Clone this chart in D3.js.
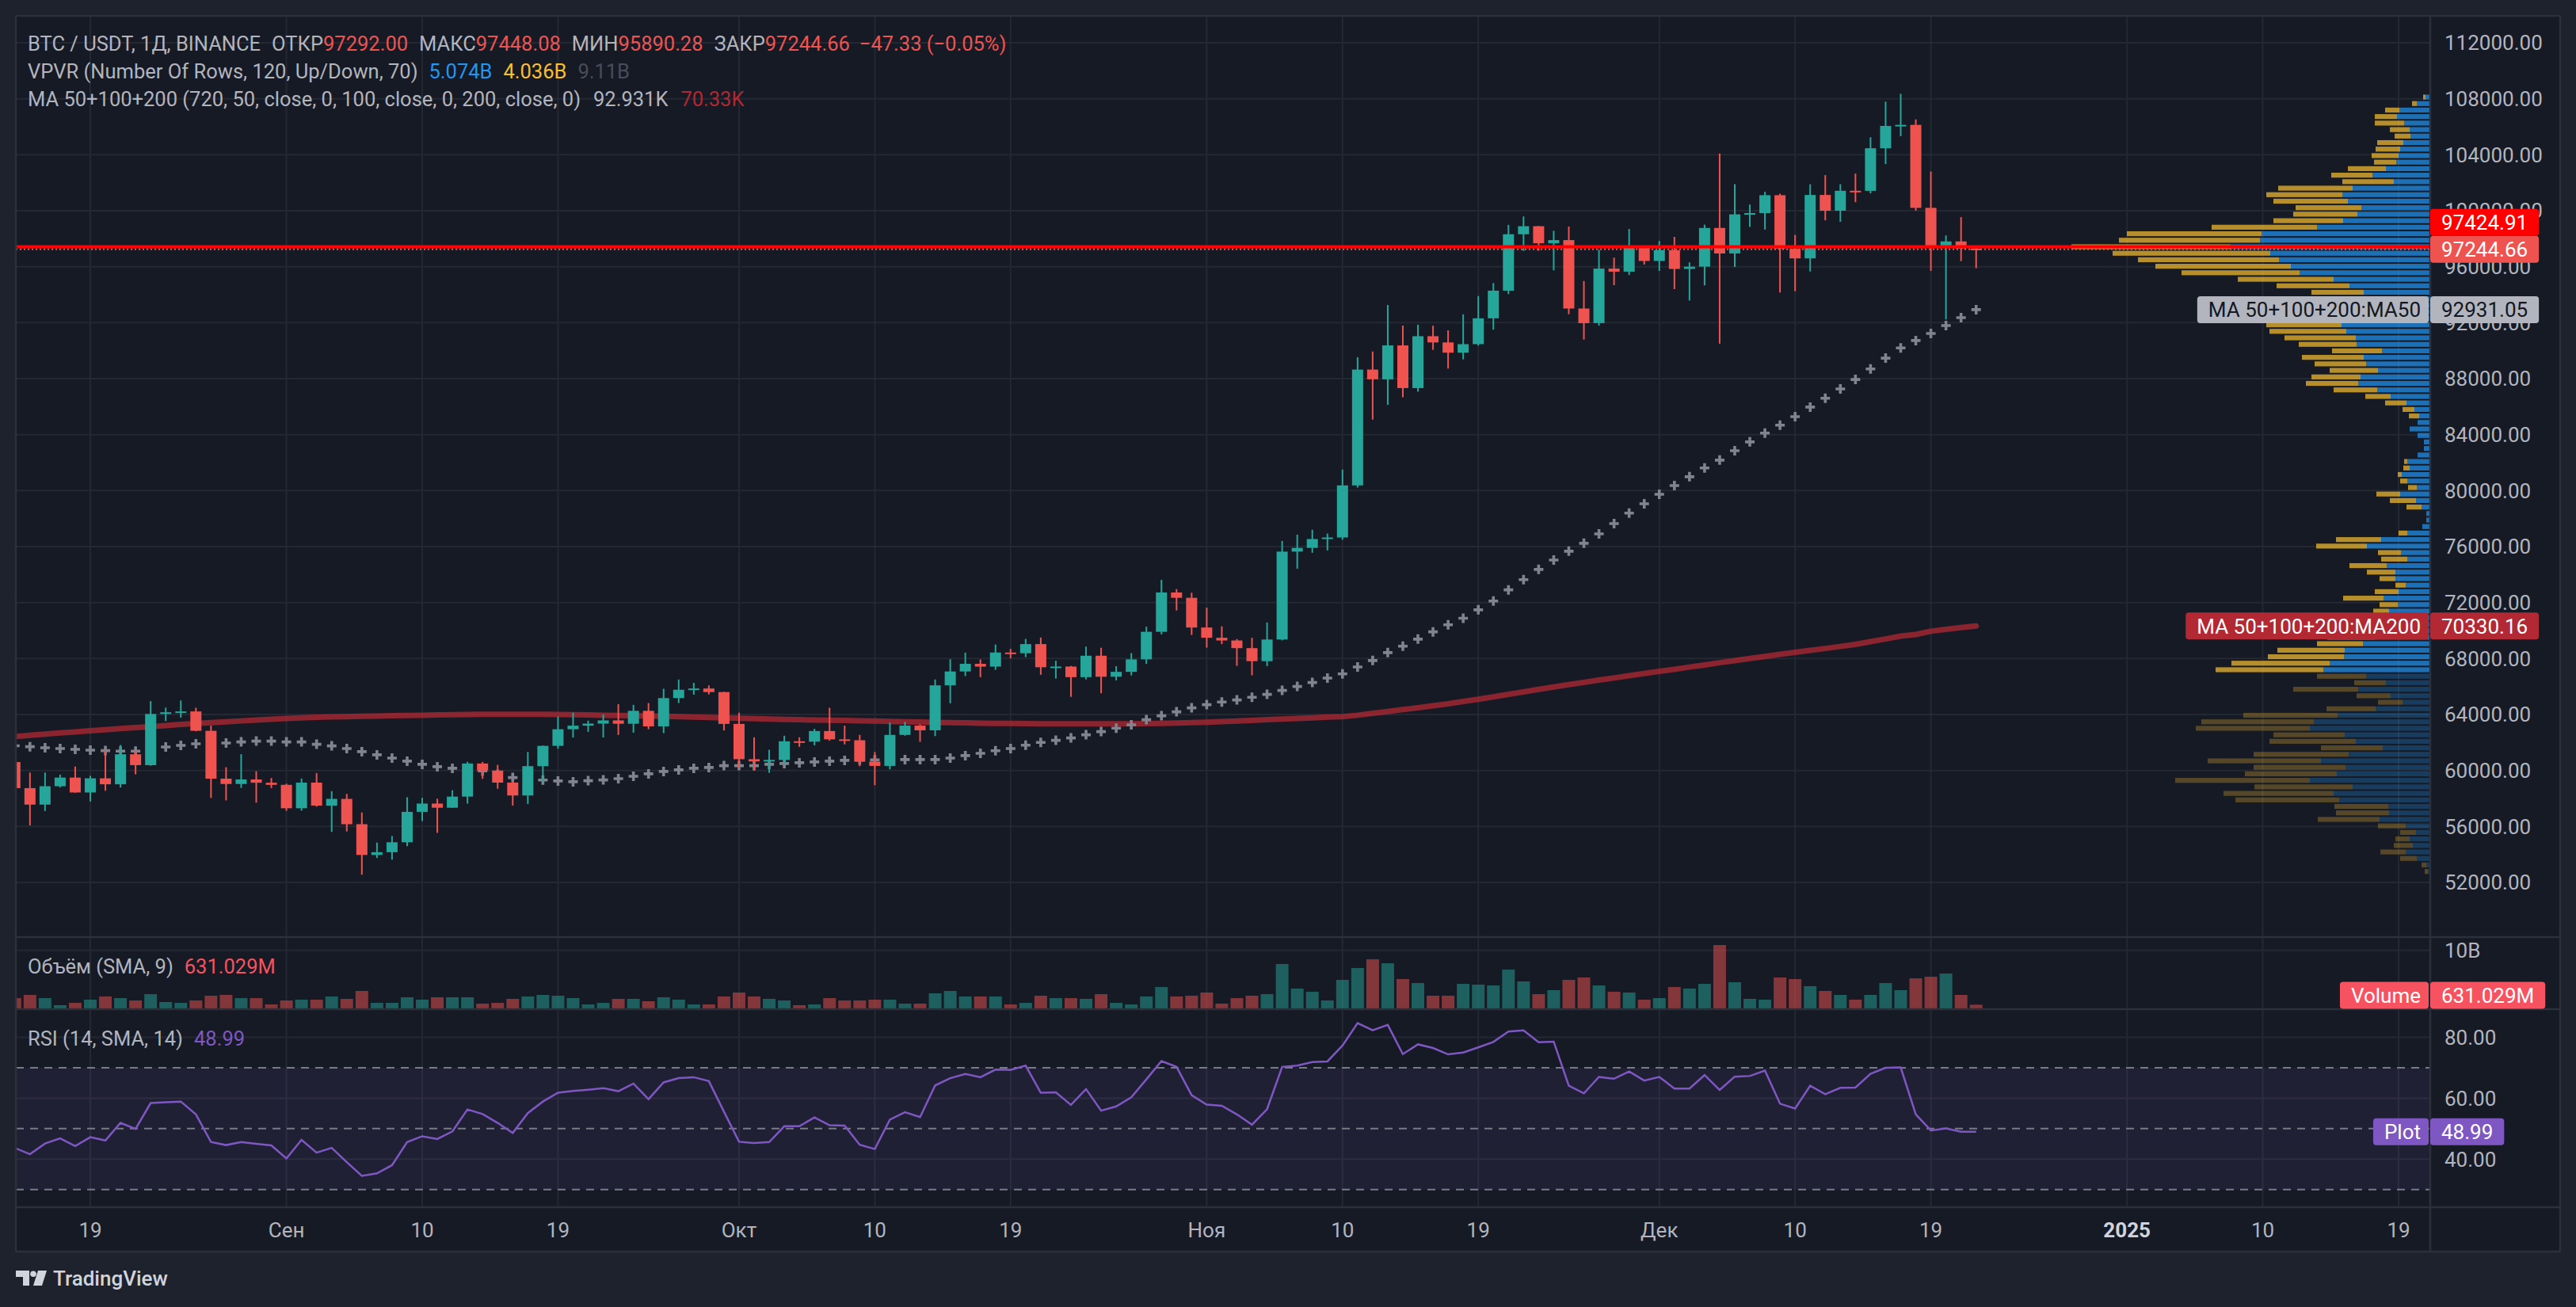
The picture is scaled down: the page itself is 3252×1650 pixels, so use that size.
<!DOCTYPE html>
<html>
<head>
<meta charset="utf-8">
<script src="https://cdn.jsdelivr.net/npm/d3@7"></script>
<style>
html, body { margin: 0; padding: 0; background: #1e222d; }
svg { display: block; font-family: Roboto, "Noto Sans", sans-serif; }
</style>
</head>
<body>
<svg id="chart" width="3252" height="1650"></svg>
<script>
// daily candles, BTC/USDT 1D, 14 Aug – 22 Dec 2024
const firstDay = new Date(Date.UTC(2024, 7, 14));
const lastDay = new Date(Date.UTC(2024, 11, 22));

const opens = [
  60601,58739,57560,58874,59491,58427,59438,59013,61156,60381,64037,64157,64220,62834,59415,59034,59359,59123,
  58973,57301,59132,57487,57970,56160,53962,54160,54869,57042,57635,57338,58132,60498,59993,59132,58213,60309,61759,62947,63201,63348,63578,63339,64262,63152,65173,65769,65858,65602,
  63327,60805,60650,60752,62086,62058,62819,62224,62160,60636,60326,62540,63206,62870,66083,67074,67620,67421,68428,68378,69032,67377,67426,66668,68199,66698,67047,67941,69908,72720,72339,
  70216,69482,69289,68741,67811,69359,75640,75904,76538,76649,80370,88648,87952,90375,87325,91032,90587,89855,90465,92310,94286,98317,98893,97673,97900,93010,91966,95864,95644,97461,
  96407,97185,95840,96002,98768,96945,99740,99831,101109,97276,96593,101125,100000,101424,101420,104463,106058,106133,100204,97461,97805,97292.00
];
const highs = [
  61800,59849,59850,59700,60284,59617,61400,61820,61400,64955,64494,65000,64481,63212,60234,61166,59944,59462,
  59054,59425,59809,58519,58327,56995,54850,55318,58088,58044,57981,58588,60625,60610,60395,59210,61320,61786,63850,64133,63559,64000,64745,64688,64817,65839,66498,66260,66076,65618,
  64130,62370,61477,62484,62370,62975,64478,63200,62543,61321,63417,63480,63285,66500,67950,68424,67939,69000,68693,69400,69500,67836,67472,68850,68771,67454,68386,70270,73620,72961,72700,
  71632,70300,69389,69480,70577,76400,76850,77200,76932,81500,89530,89940,93265,91790,91850,91779,91449,92594,93905,94831,98988,99588,98908,98564,98871,94973,97208,96650,98693,97463,
  97836,98130,96305,99000,104088,101898,100439,101350,101215,98270,101888,102540,101895,102650,105250,107793,108353,106524,102800,98233,99540,97448.08
];
const lows = [
  58433,56078,57098,58785,58408,57787,58548,58783,59724,60342,63531,63773,62800,58034,57860,58755,57700,58744,
  57118,57128,57415,55606,55643,52550,53745,53629,54591,56386,55545,57324,57632,59400,58692,57493,57610,59174,61555,62350,62758,62357,62538,62700,62947,62670,64819,65422,65432,62856,
  60164,59996,59828,60459,61689,61798,62128,61860,60300,58946,60087,62487,62050,62457,64800,66750,66666,67192,68010,68100,66836,66571,65260,66510,65520,66439,66792,67618,69730,71436,69686,
  68779,69032,67478,66800,67458,69298,74416,75560,75725,76492,80216,85072,86128,86668,87073,90056,88722,89376,90357,91500,94040,97122,97136,95734,92600,90791,91792,94677,95407,96150,
  95694,94395,93578,94660,90500,95981,98844,98651,94150,94256,95658,99311,99205,100610,101237,103333,105322,100000,95700,92232,96398,95890.28
];
const closes = [
  58739,57560,58874,59491,58427,59438,59013,61156,60381,64037,64157,64220,62834,59415,59034,59359,59123,58973,
  57301,59132,57487,57970,56160,53962,54160,54869,57042,57635,57338,58132,60498,59993,59132,58213,60309,61759,62947,63201,63348,63578,63339,64262,63152,65173,65769,65858,65602,63327,
  60805,60650,60752,62086,62058,62819,62224,62160,60636,60326,62540,63206,62870,66083,67074,67620,67421,68428,68378,69032,67377,67426,66668,68199,66698,67047,67941,69908,72720,72339,70215,
  69482,69289,68741,67811,69359,75640,75904,76538,76649,80370,88647,87952,90375,87325,91032,90586,89855,90464,92310,94286,98317,98892,97672,97900,93010,91965,95863,95643,97460,96407,
  97185,95840,96002,98768,96945,99740,99831,101109,97276,96593,101125,100000,101424,101420,104463,106058,106133,100204,97461,97805,97292,97244.66
];

// volume, billions USDT
const volumes = [
  1.77,2.32,1.77,0.55,0.95,1.5,2.05,1.77,1.36,2.45,1.09,0.95,1.36,2.18,2.32,1.77,1.77,0.68,
  1.36,1.5,1.5,2.05,1.64,3.0,0.95,0.95,1.91,1.5,1.91,1.91,1.91,0.82,0.95,1.64,2.05,2.32,2.18,1.77,0.68,0.95,1.64,1.64,1.23,1.91,1.5,0.68,0.68,2.05,
  2.73,2.05,1.64,1.36,0.55,0.68,1.77,1.36,1.36,1.5,1.5,0.82,0.82,2.59,3.0,2.05,2.05,2.05,0.68,0.95,2.18,1.77,1.77,1.64,2.45,0.95,0.68,2.05,3.68,2.05,2.18,
  2.73,0.82,1.77,2.18,2.45,7.64,3.41,2.86,1.36,4.91,6.95,8.45,7.77,5.05,4.36,2.18,2.18,4.23,4.09,3.95,6.68,4.64,2.45,3.14,4.91,5.32,3.95,2.86,2.73,1.5,
  1.77,3.68,3.41,4.23,10.91,4.5,1.64,1.5,5.32,5.05,3.82,3.0,2.32,1.5,2.32,4.36,3.14,5.18,5.45,6.0,2.32,0.631
];

const ma50 = [
  61760,61700,61626,61570,61513,61456,61419,61381,61381,61540,61683,61796,61909,61940,61966,62042,62098,62098,
  62042,62042,61872,61759,61570,61344,61118,60891,60665,60439,60269,60156,60060,59967,59730,59495,59400,59320,59250,59193,59268,59325,59419,59589,59759,59929,60042,60156,60212,60344,
  60344,60344,60439,60495,60552,60609,60665,60722,60740,60760,60770,60778,60778,60778,60891,61061,61230,61410,61570,61805,62004,62155,62325,62551,62778,63023,63268,63627,63910,64193,64476,
  64702,64891,65042,65231,65438,65721,66004,66287,66602,66897,67399,67857,68423,68882,69386,69906,70410,70874,71480,72108,72906,73636,74367,75040,75668,76234,76902,77638,78391,79059,
  79733,80361,80989,81617,82178,82851,83479,84107,84673,85279,85969,86598,87266,87939,88691,89467,90197,90724,91228,91794,92355,92931.05
];
const ma200 = [
  62420,62520,62600,62680,62760,62840,62910,62990,63060,63130,63210,63290,63360,63420,63480,63540,63600,63660,
  63720,63760,63800,63830,63850,63870,63890,63910,63930,63950,63970,63990,64000,64010,64020,64020,64020,64010,64000,63990,63970,63950,63930,63910,63890,63870,63850,63820,63790,63760,
  63730,63700,63680,63650,63630,63610,63590,63570,63550,63530,63500,63480,63460,63440,63420,63400,63380,63370,63360,63350,63340,63330,63330,63330,63330,63330,63340,63350,63370,63390,63420,
  63450,63490,63530,63580,63630,63680,63710,63760,63810,63850,63950,64080,64210,64350,64480,64620,64760,64930,65090,65260,65440,65610,65800,65970,66140,66290,66460,66610,66770,66930,
  67080,67230,67390,67540,67700,67850,68000,68150,68300,68440,68580,68720,68860,69010,69210,69400,69600,69720,69950,70080,70210,70330.16
];

const rsi = [
  43.65,41.6,45.1,46.8,44.3,47.2,46.1,51.9,49.9,58.4,58.7,58.9,54.7,45.6,44.6,45.6,45.0,44.5,
  40.2,46.3,42.1,43.7,39.0,34.5,35.3,38.0,45.6,47.5,46.6,49.1,56.3,54.8,51.9,48.6,55.1,58.9,61.8,62.4,62.8,63.3,62.3,64.8,59.7,65.2,66.6,66.9,65.6,55.6,
  45.7,45.3,45.6,50.8,50.8,53.7,51.1,51.0,44.7,43.3,53.0,55.4,53.8,64.2,66.6,68.0,66.9,69.4,69.3,70.7,61.8,61.9,57.8,63.0,55.9,57.3,60.3,66.2,72.2,70.3,61.0,
  57.9,57.5,54.7,51.3,56.4,70.3,70.7,71.9,72.1,77.3,84.7,82.3,84.1,74.5,77.7,76.5,74.4,75.0,76.7,78.5,81.9,82.3,78.4,78.6,64.1,61.6,67.0,66.4,68.8,65.8,
  67.0,63.2,63.2,67.6,62.7,67.1,67.3,69.1,58.2,56.6,64.1,61.3,63.4,63.5,68.0,70.0,70.1,54.7,49.4,50.1,49.0,48.99
];

// VPVR: 120 rows between the range low and high, relative volume per row
const vpLow = 52550, vpHigh = 108353, vpRows = 120;
const valueAreaLow = 66966;
const vpUp = [
  3,5,17,31,22,26,18,31,64,52, 53,115,122,98,152,118,107,138,103,60,
  94,108,152,147,117,69,35,50,91,56, 81,135,127,109,108,85,70,60,55,50,
  52,41,59,40,31,44,44,55,29,37, 80,62,29,10,5,5,11,18,38,17,
  29,36,26,29,16,8,8,16,26,16, 14,20,30,50,67,91,88,66,81,84,
  61,93,94,106,112,100,95,85,80,84, 102,122,165,176,191,202,252,215,213,143,
  110,92,87,104,111,98,46,73,56,43, 40,38,34,25,26,33,42,39,17,6
];
const vpDown = [
  4,6,21,32,24,18,20,35,78,67, 68,131,139,124,170,116,116,143,120,78,
  109,90,144,142,119,62,31,43,82,40, 62,136,124,96,85,58,60,50,45,35,
  20,23,51,30,13,20,36,47,33,29, 64,57,11,0,0,0,19,33,30,11,
  9,5,8,4,0,0,0,0,0,0, 13,15,27,32,55,66,62,61,65,78,
  63,73,90,97,95,90,85,75,70,66, 92,121,149,171,178,199,201,178,170,133,
  88,81,83,94,96,94,65,52,48,28, 34,31,33,20,25,37,28,18,6,3
];

const priceTicks = [52000,56000,60000,64000,68000,72000,76000,80000,84000,88000,92000,96000,100000,104000,108000,112000];
const volumeTicks = [10];
const rsiTicks = [80, 60, 40];
const rsiLevels = [70, 50, 30];
const timeTicks = [
  [2024,7,19],[2024,8,1],[2024,8,10],[2024,8,19],[2024,9,1],[2024,9,10],[2024,9,19],[2024,10,1],
  [2024,10,10],[2024,10,19],[2024,11,1],[2024,11,10],[2024,11,19],[2025,0,1],[2025,0,10],[2025,0,19]
].map(d => new Date(Date.UTC(d[0], d[1], d[2])));
const timeLabels = ["19","Сен","10","19","Окт","10","19","Ноя","10","19","Дек","10","19","2025","10","19"];

const alertPrice = 97424.91;
const lastPrice = 97244.66;

const upColor = "#26a69a", downColor = "#ef5350";
const textGray = "#b2b5be";

const svg = d3.select("#chart");
const width = +svg.attr("width");
const height = +svg.attr("height");

const L = 20, R = 3068, AX = 3232, T = 20;
const mainBottom = 1182, volTop = 1184, volBottom = 1273, rsiTop = 1275, rsiBottom = 1523, timeBottom = 1580;

const dates = d3.utcDay.range(firstDay, d3.utcDay.offset(lastDay, 1));

const x = d3.scaleUtc()
  .domain([new Date(Date.UTC(2024, 7, 19)), new Date(Date.UTC(2025, 0, 19))])
  .range([114, 3028]);
const y = d3.scaleLinear().domain([52000, 112000]).range([1114, 54]);
const yVol = d3.scaleLinear().domain([0, 10]).range([volBottom, 1199.7]);
const yRsi = d3.scaleLinear().domain([30, 70]).range([1501.7, 1348]);

// backgrounds
svg.append("rect").attr("width", width).attr("height", height).attr("fill", "#1e222d");
svg.append("rect").attr("x", L).attr("y", T).attr("width", AX - L).attr("height", timeBottom - T).attr("fill", "#161a25");

const defs = svg.append("defs");
defs.append("clipPath").attr("id", "clipMain").append("rect")
  .attr("x", L).attr("y", T).attr("width", R - L).attr("height", mainBottom - T);
defs.append("clipPath").attr("id", "clipVol").append("rect")
  .attr("x", L).attr("y", volTop).attr("width", R - L).attr("height", volBottom - volTop);
defs.append("clipPath").attr("id", "clipRsi").append("rect")
  .attr("x", L).attr("y", rsiTop).attr("width", R - L).attr("height", rsiBottom - rsiTop);

// grid
const grid = svg.append("g").attr("stroke", "#242833").attr("stroke-width", 2);
grid.selectAll(".vg").data(timeTicks).join("line")
  .attr("x1", d => x(d)).attr("x2", d => x(d)).attr("y1", T).attr("y2", rsiBottom);
grid.selectAll(".hg").data(priceTicks).join("line")
  .attr("x1", L).attr("x2", R).attr("y1", d => y(d)).attr("y2", d => y(d));
grid.selectAll(".vgv").data(volumeTicks).join("line")
  .attr("x1", L).attr("x2", R).attr("y1", d => yVol(d)).attr("y2", d => yVol(d));
grid.selectAll(".rg").data(rsiTicks).join("line")
  .attr("x1", L).attr("x2", R).attr("y1", d => yRsi(d)).attr("y2", d => yRsi(d));

// ---- main pane ----
const main = svg.append("g").attr("clip-path", "url(#clipMain)");

// volume profile
const rowH = (vpHigh - vpLow) / vpRows;
const vpWidth = d3.scaleLinear().domain([0, d3.max(vpUp, (d, i) => d + vpDown[i])]).range([0, 453]);
const vpData = vpUp.map((u, i) => ({
  lo: vpLow + i * rowH, hi: vpLow + (i + 1) * rowH, up: u, down: vpDown[i]
}));
const vp = main.append("g");
vp.selectAll(".vpu").data(vpData).join("rect")
  .attr("x", d => R - vpWidth(d.up))
  .attr("y", d => y(d.hi) + 1)
  .attr("width", d => vpWidth(d.up))
  .attr("height", d => y(d.lo) - y(d.hi) - 2)
  .attr("fill", d => d.hi > valueAreaLow ? "rgba(33,150,243,0.7)" : "rgba(33,150,243,0.28)");
vp.selectAll(".vpd").data(vpData).join("rect")
  .attr("x", d => R - vpWidth(d.up + d.down))
  .attr("y", d => y(d.hi) + 1)
  .attr("width", d => vpWidth(d.down))
  .attr("height", d => y(d.lo) - y(d.hi) - 2)
  .attr("fill", d => d.hi > valueAreaLow ? "rgba(251,192,45,0.7)" : "rgba(251,192,45,0.28)");

// MA200
main.append("path")
  .datum(ma200)
  .attr("fill", "none")
  .attr("stroke", "#b22833")
  .attr("stroke-opacity", 0.75)
  .attr("stroke-width", 7)
  .attr("stroke-linecap", "round")
  .attr("d", d3.line().x((d, i) => x(dates[i])).y(d => y(d)));

// MA50 as crosses
main.append("path")
  .attr("fill", "none")
  .attr("stroke", "#81848e")
  .attr("stroke-width", 3.6)
  .attr("d", ma50.map((v, i) => {
    const cx = x(dates[i]), cy = y(v);
    return `M${cx - 6},${cy}h12M${cx},${cy - 6}v12`;
  }).join(""));

// candles
const candles = main.append("g");
const candleData = dates.map((d, i) => ({ d, o: opens[i], h: highs[i], l: lows[i], c: closes[i] }));
candles.selectAll(".wick").data(candleData).join("rect")
  .attr("x", d => x(d.d) - 1)
  .attr("y", d => y(d.h))
  .attr("width", 2)
  .attr("height", d => y(d.l) - y(d.h))
  .attr("fill", d => d.c >= d.o ? upColor : downColor);
candles.selectAll(".body").data(candleData).join("rect")
  .attr("x", d => x(d.d) - 7)
  .attr("y", d => y(Math.max(d.o, d.c)))
  .attr("width", 14)
  .attr("height", d => Math.max(2, Math.abs(y(d.o) - y(d.c))))
  .attr("fill", d => d.c >= d.o ? upColor : downColor);

// horizontal price lines
main.append("line")
  .attr("x1", L).attr("x2", R).attr("y1", y(alertPrice)).attr("y2", y(alertPrice))
  .attr("stroke", "#ff0000").attr("stroke-width", 4);
main.append("line")
  .attr("x1", L).attr("x2", R).attr("y1", y(lastPrice)).attr("y2", y(lastPrice))
  .attr("stroke", "#ef5350").attr("stroke-width", 2).attr("stroke-dasharray", "2,3");

// ---- volume pane ----
const vol = svg.append("g").attr("clip-path", "url(#clipVol)");
vol.selectAll("rect").data(candleData).join("rect")
  .attr("x", d => x(d.d) - 8)
  .attr("y", (d, i) => yVol(volumes[i]))
  .attr("width", 16)
  .attr("height", (d, i) => yVol(0) - yVol(volumes[i]))
  .attr("fill", d => d.c >= d.o ? "rgba(38,166,154,0.5)" : "rgba(239,83,80,0.5)");

// ---- RSI pane ----
const rp = svg.append("g").attr("clip-path", "url(#clipRsi)");
rp.append("rect")
  .attr("x", L).attr("width", R - L)
  .attr("y", yRsi(70)).attr("height", yRsi(30) - yRsi(70))
  .attr("fill", "rgba(126,87,194,0.1)");
rp.selectAll(".lvl").data(rsiLevels).join("line")
  .attr("x1", L).attr("x2", R)
  .attr("y1", d => yRsi(d)).attr("y2", d => yRsi(d))
  .attr("stroke", "#787b86").attr("stroke-width", 2).attr("stroke-dasharray", "10,8");
rp.append("path")
  .datum(rsi)
  .attr("fill", "none")
  .attr("stroke", "#7e57c2")
  .attr("stroke-width", 2.5)
  .attr("d", d3.line().x((d, i) => x(dates[i])).y(d => yRsi(d)));

// separators
const sep = svg.append("g").attr("stroke", "#2c303b").attr("stroke-width", 2.5);
[1183, 1274, 1524, timeBottom].forEach(v => sep.append("line").attr("x1", L).attr("x2", AX).attr("y1", v).attr("y2", v));
sep.append("line").attr("x1", R).attr("x2", R).attr("y1", T).attr("y2", timeBottom);
sep.append("line").attr("x1", L).attr("x2", AX).attr("y1", T).attr("y2", T);
sep.append("line").attr("x1", L).attr("x2", L).attr("y1", T).attr("y2", timeBottom);
sep.append("line").attr("x1", AX).attr("x2", AX).attr("y1", T).attr("y2", timeBottom);

// axis labels
const axis = svg.append("g").attr("font-size", 26).attr("fill", textGray);
axis.selectAll(".pt").data(priceTicks).join("text")
  .attr("x", 3086).attr("y", d => y(d)).attr("dy", "0.36em")
  .text(d => d3.format(".2f")(d));
axis.selectAll(".vt").data(volumeTicks).join("text")
  .attr("x", 3086).attr("y", d => yVol(d)).attr("dy", "0.36em")
  .text(d => d + "B");
axis.selectAll(".rt").data(rsiTicks).join("text")
  .attr("x", 3086).attr("y", d => yRsi(d)).attr("dy", "0.36em")
  .text(d => d3.format(".2f")(d));
axis.selectAll(".tt").data(timeTicks).join("text")
  .attr("x", d => x(d)).attr("y", 1553).attr("dy", "0.36em")
  .attr("text-anchor", "middle")
  .attr("font-weight", (d, i) => timeLabels[i] === "2025" ? "bold" : null)
  .attr("fill", (d, i) => timeLabels[i] === "2025" ? "#d1d4dc" : textGray)
  .text((d, i) => timeLabels[i]);

// legends
function legend(yc, parts) {
  const g = svg.append("g").attr("font-size", 25.5);
  let cx = 35;
  parts.forEach(p => {
    cx += p.gap || 0;
    const t = g.append("text").attr("x", cx).attr("y", yc).attr("dy", "0.36em")
      .attr("fill", p.color || textGray).text(p.text);
    cx += t.node().getComputedTextLength();
  });
}
const last = closes.length - 1;
legend(55, [
  { text: "BTC / USDT, 1Д, BINANCE" },
  { text: "ОТКР", gap: 14 }, { text: opens[last].toFixed(2), color: downColor },
  { text: "МАКС", gap: 14 }, { text: highs[last].toFixed(2), color: downColor },
  { text: "МИН", gap: 14 }, { text: lows[last].toFixed(2), color: downColor },
  { text: "ЗАКР", gap: 14 }, { text: closes[last].toFixed(2), color: downColor },
  { text: "−47.33 (−0.05%)", color: downColor, gap: 12 }
]);
legend(90, [
  { text: "VPVR (Number Of Rows, 120, Up/Down, 70)" },
  { text: "5.074B", color: "#2196f3", gap: 14 },
  { text: "4.036B", color: "#fbc02d", gap: 14 },
  { text: "9.11B", color: "#4a4d57", gap: 14 }
]);
legend(125, [
  { text: "MA 50+100+200 (720, 50, close, 0, 100, close, 0, 200, close, 0)" },
  { text: "92.931K", gap: 16 },
  { text: "70.33K", color: "#b22833", gap: 16 }
]);
legend(1220, [
  { text: "Объём (SMA, 9)" },
  { text: "631.029M", color: "#f7525f", gap: 14 }
]);
legend(1311, [
  { text: "RSI (14, SMA, 14)" },
  { text: "48.99", color: "#7e57c2", gap: 14 }
]);

// price boxes on the axis
function axisBox(yc, value, bg, fg, name) {
  const g = svg.append("g").attr("font-size", 26);
  const h = 34;
  const vt = g.append("text").attr("x", R + 14).attr("y", yc).attr("dy", "0.36em").attr("fill", fg).text(value);
  const vw = vt.node().getComputedTextLength() + 28;
  g.insert("rect", "text").attr("x", R).attr("y", yc - h / 2).attr("width", vw).attr("height", h).attr("rx", 4).attr("fill", bg);
  if (name) {
    const nt = g.append("text").attr("x", R - 12).attr("y", yc).attr("dy", "0.36em")
      .attr("text-anchor", "end").attr("fill", fg).text(name);
    const nw = nt.node().getComputedTextLength() + 24;
    g.insert("rect", "text").attr("x", R - 2 - nw).attr("y", yc - h / 2).attr("width", nw).attr("height", h).attr("rx", 4).attr("fill", bg);
  }
}
axisBox(y(ma50[last]), d3.format(".2f")(ma50[last]), "#b2b5be", "#131722", "MA 50+100+200:MA50");
axisBox(y(ma200[last]), d3.format(".2f")(ma200[last]), "#b22833", "#ffffff", "MA 50+100+200:MA200");
axisBox(y(lastPrice), lastPrice.toFixed(2), "#ef5350", "#ffffff");
axisBox(y(lastPrice) - 34, alertPrice.toFixed(2), "#ff0000", "#ffffff");
axisBox(1256.5, "631.029M", "#f7525f", "#ffffff", "Volume");
axisBox(yRsi(rsi[last]), rsi[last].toFixed(2), "#7e57c2", "#ffffff", "Plot");

// TradingView logo
const logo = svg.append("g").attr("transform", "translate(20,1604)").attr("fill", "#d1d4dc");
logo.append("path").attr("d", "M0,0H17V19H9V8H0Z");
logo.append("circle").attr("cx", 22).attr("cy", 4.2).attr("r", 3.8);
logo.append("path").attr("d", "M28,0H39L33,19H22Z");
svg.append("text").attr("x", 67).attr("y", 1614).attr("dy", "0.36em")
  .attr("font-size", 26).attr("font-weight", 500).attr("fill", "#d1d4dc").text("TradingView");
</script>
</body>
</html>
